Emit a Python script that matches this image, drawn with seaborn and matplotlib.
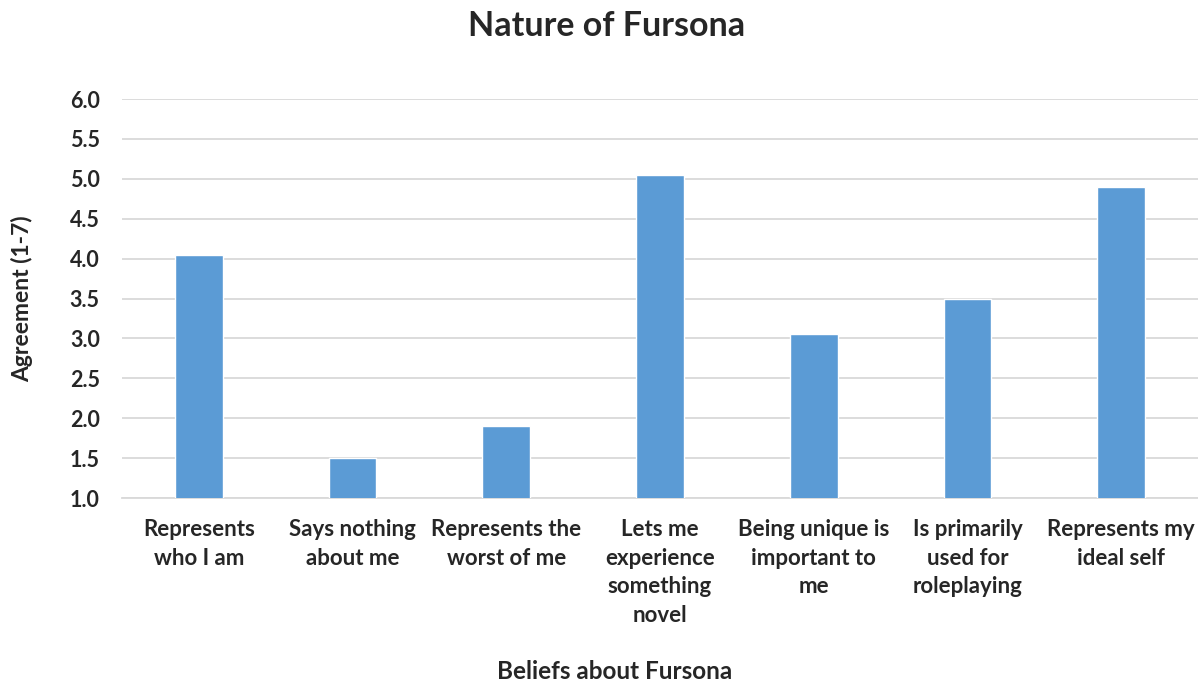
import matplotlib.pyplot as plt
import seaborn as sns
import pandas as pd

# Data
beliefs = [
    "Represents\nwho I am",
    "Says nothing\nabout me",
    "Represents the\nworst of me",
    "Lets me\nexperience\nsomething\nnovel",
    "Being unique is\nimportant to\nme",
    "Is primarily\nused for\nroleplaying",
    "Represents my\nideal self",
]
agreement = [4.05, 1.5, 1.9, 5.05, 3.05, 3.5, 4.9]
y_ticks = [1.0, 1.5, 2.0, 2.5, 3.0, 3.5, 4.0, 4.5, 5.0, 5.5, 6.0]

df = pd.DataFrame({"belief": beliefs, "agreement": agreement})

sns.set_style("white")
plt.rcParams['font.family'] = ['Lato', 'DejaVu Sans']
plt.rcParams['font.weight'] = 'bold'

fig = plt.figure(figsize=(11.98, 6.81), dpi=100)
ax = fig.add_axes([0.1018, 0.2687, 0.8982, 0.5859])

sns.barplot(data=df, x="belief", y="agreement", color="#5B9BD5",
            saturation=1, width=0.31, ax=ax, zorder=3)

ax.set_ylim(1.0, 6.0)
ax.set_yticks(y_ticks)
ax.set_yticklabels([f"{t:.1f}" for t in y_ticks], fontsize=15.5, fontweight='bold')
ax.set_xlim(-0.5, len(beliefs) - 0.5)
ax.set_xticks(range(len(beliefs)))
ax.set_xticklabels(beliefs, fontsize=16, fontweight='bold', linespacing=1.46,
                   va='top')
ax.tick_params(axis='y', length=0, pad=16)
ax.tick_params(axis='x', length=0, pad=15)

ax.grid(axis='y', color='#D9D9D9', linewidth=1.3, zorder=0)
for side in ['left', 'right', 'top']:
    ax.spines[side].set_visible(False)
ax.spines['bottom'].set_color('#D9D9D9')
ax.spines['bottom'].set_linewidth(1.3)

ax.set_xlabel("Beliefs about Fursona", fontsize=17.5, fontweight='bold')
ax.xaxis.set_label_coords(0.458, -0.405)
ax.set_ylabel("Agreement (1-7)", fontsize=16.5, fontweight='bold')
ax.yaxis.set_label_coords(-0.083, 0.5)

fig.suptitle("Nature of Fursona", fontsize=24.5, fontweight='bold', x=0.506, y=0.985)

fig.savefig("out.png", dpi=100)
